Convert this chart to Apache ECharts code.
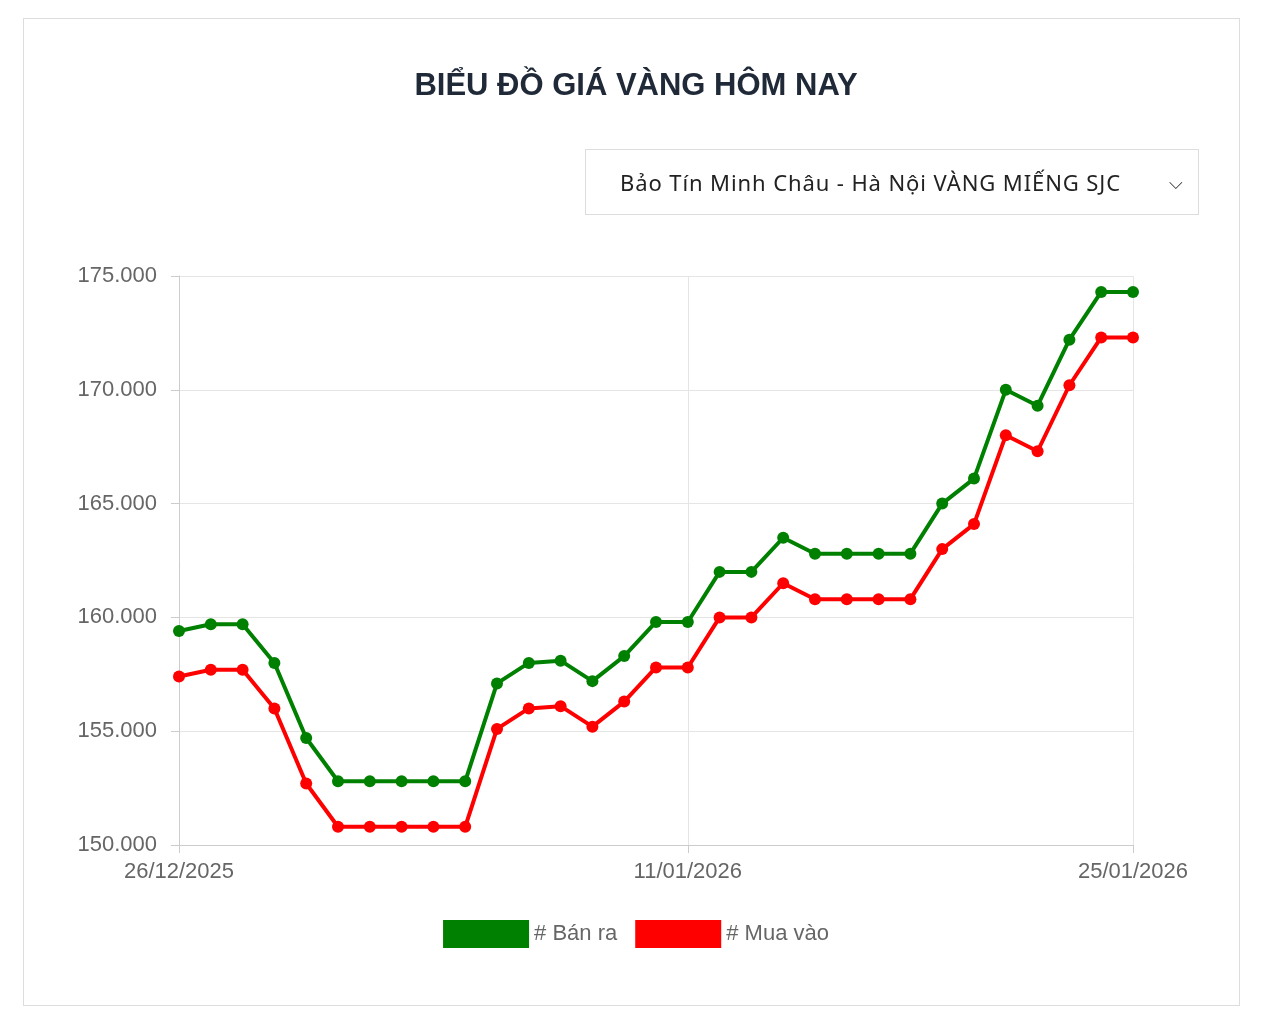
<!DOCTYPE html>
<html><head><meta charset="utf-8">
<script src="https://cdn.jsdelivr.net/npm/echarts@6/dist/echarts.min.js"></script>
<style>
body{margin:0;background:#fff;font-family:"Liberation Sans",Arial,sans-serif;}
#card{position:absolute;left:23px;top:18px;width:1217px;height:988px;border:1px solid #ddd;box-sizing:border-box;}
#sel{position:absolute;left:585px;top:149px;width:614px;height:66px;border:1px solid #ddd;box-sizing:border-box;font-size:22px;color:#222;line-height:64px;padding-left:34px;letter-spacing:0.9px;font-family:"Noto Sans","DejaVu Sans",sans-serif;}
#sel span{position:absolute;right:14px;top:0;font-size:18px;}
#c{position:absolute;left:0;top:0;width:1272px;height:1030px;}
</style></head><body>
<div id="card"></div>
<div id="c"></div>
<div id="sel">Bảo Tín Minh Châu - Hà Nội VÀNG MIẾNG SJC<span>&#x2335;</span></div>
<script>
const categories=["26/12/2025","27/12/2025","28/12/2025","29/12/2025","30/12/2025","31/12/2025","01/01/2026","02/01/2026","03/01/2026","04/01/2026","05/01/2026","06/01/2026","07/01/2026","08/01/2026","09/01/2026","10/01/2026","11/01/2026","12/01/2026","13/01/2026","14/01/2026","15/01/2026","16/01/2026","17/01/2026","18/01/2026","19/01/2026","20/01/2026","21/01/2026","22/01/2026","23/01/2026","24/01/2026","25/01/2026"];
const banRa=[159400,159700,159700,158000,154700,152800,152800,152800,152800,152800,157100,158000,158100,157200,158300,159800,159800,162000,162000,163500,162800,162800,162800,162800,165000,166100,170000,169300,172200,174300,174300];
const muaVao=[157400,157700,157700,156000,152700,150800,150800,150800,150800,150800,155100,156000,156100,155200,156300,157800,157800,160000,160000,161500,160800,160800,160800,160800,163000,164100,168000,167300,170200,172300,172300];
const labelIdx=[0,16,30];
const fmt=v=>String(v).replace(/\B(?=(\d{3})+(?!\d))/g,'.');
const ch=echarts.init(document.getElementById('c'));
ch.setOption({
 animation:false,
 title:{text:'BIỂU ĐỒ GIÁ VÀNG HÔM NAY',left:'center',top:66,textStyle:{fontSize:31,fontWeight:'bold',color:'#1f2937',fontFamily:'Liberation Sans'}},
 legend:{bottom:77,left:'center',itemWidth:86,itemHeight:28,itemGap:18,icon:'rect',textStyle:{fontSize:22,color:'#666'},
   data:[{name:'# Bán ra',itemStyle:{color:'green'}},{name:'# Mua vào',itemStyle:{color:'red'}}]},
 grid:{left:179,right:139,top:276,bottom:185},
 xAxis:{type:'category',boundaryGap:false,data:categories,
   axisLine:{lineStyle:{color:'#ccc'}},axisTick:{show:true,length:8,interval:(i)=>labelIdx.includes(i),lineStyle:{color:'#ccc'}},
   axisLabel:{interval:(i)=>labelIdx.includes(i),fontSize:22,color:'#666',margin:16},
   splitLine:{show:true,interval:(i)=>labelIdx.includes(i),lineStyle:{color:'#e5e5e5'}}},
 yAxis:{type:'value',min:150000,max:175000,interval:5000,
   axisLine:{show:true,lineStyle:{color:'#ccc'}},axisTick:{show:true,length:8,lineStyle:{color:'#ccc'}},
   axisLabel:{fontSize:22,color:'#666',margin:22,formatter:fmt},
   splitLine:{lineStyle:{color:'#e5e5e5'}}},
 series:[
  {name:'# Bán ra',type:'line',data:banRa,color:'green',lineStyle:{width:4},symbol:'circle',symbolSize:12,itemStyle:{color:'green'}},
  {name:'# Mua vào',type:'line',data:muaVao,color:'red',lineStyle:{width:4},symbol:'circle',symbolSize:12,itemStyle:{color:'red'}}
 ]
});
</script></body></html>
